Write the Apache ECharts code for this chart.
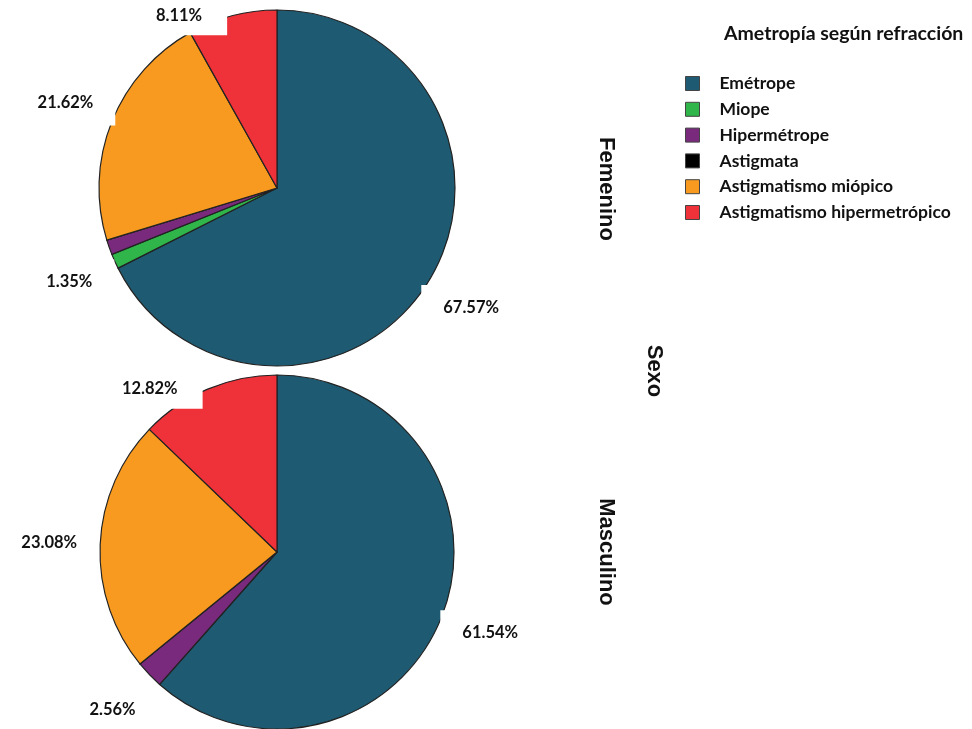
<!DOCTYPE html>
<html><head><meta charset="utf-8">
<script src="https://cdn.jsdelivr.net/npm/echarts@6/dist/echarts.min.js"></script>
<style>html,body{margin:0;padding:0;background:#fff}#c{width:972px;height:729px}</style>
</head><body><div id="c"></div>
<script>
const categories = ['Emétrope','Miope','Hipermétrope','Astigmata','Astigmatismo miópico','Astigmatismo hipermetrópico'];
const colors = ['#1e5b73','#2fb54a','#7a2a7d','#000000','#f79a1f','#ef3139'];
const femenino = [67.57, 1.35, 1.35, 0, 21.62, 8.11];
const masculino = [61.54, 0, 2.56, 0, 23.08, 12.82];
const groupLabels = ['Femenino','Masculino'];
const groupTitle = 'Sexo';
const legendTitle = 'Ametropía según refracción';
// category whose label sits beside the pie edge (top slice) instead of on the radial ring
const edgeLabelCategory = 'Astigmatismo hipermetrópico';

const labelFont = 'Lato';
const fmt = function(p){ return p.value.toFixed(2) + '%'; };
const labelText = {fontFamily: labelFont, fontWeight: 'bold', fontSize: 16.5, color: '#111', backgroundColor: '#fff'};

function makeSeries(name, values, center, radius){
  return {
    type:'pie', name: name, center: center, radius: radius,
    startAngle: 90, clockwise: true, avoidLabelOverlap: false, animation: false,
    itemStyle: {borderColor:'#222', borderWidth:1.2},
    emphasis: {disabled: true},
    label: Object.assign({show: false, position: 'outside', formatter: fmt, padding: [11, 25, 11, 20]}, labelText),
    labelLine: {show: false, length: 0, length2: 0},
    data: categories.map(function(c, i){
      const d = {name: c, value: values[i], itemStyle: {color: colors[i]}};
      if (values[i] !== 0 && c === edgeLabelCategory) d.label = {show: true};
      return d;
    })
  };
}
// transparent ring that carries the radial percentage labels
function makeLabelRing(name, values, center, ringRadius){
  return {
    type:'pie', name: name + ' etiquetas', center: center, radius: [0, ringRadius],
    startAngle: 90, clockwise: true, avoidLabelOverlap: false, animation: false,
    silent: true, z: 5,
    itemStyle: {color: 'rgba(0,0,0,0)', borderWidth: 0},
    emphasis: {disabled: true},
    label: Object.assign({show: true, position: 'inside', formatter: fmt, padding: [14, 22]}, labelText),
    labelLine: {show: false},
    labelLayout: {hideOverlap: true},
    data: categories.map(function(c, i){
      const d = {name: c, value: values[i]};
      if (values[i] === 0 || c === edgeLabelCategory) d.label = {show: false};
      return d;
    })
  };
}

const chart = echarts.init(document.getElementById('c'), null, {renderer:'canvas'});
chart.setOption({
  backgroundColor: '#fff',
  animation: false,
  color: colors,
  title: {
    text: legendTitle, left: 719, top: 19,
    textStyle: {fontFamily: labelFont, fontWeight: 'bold', fontSize: 19.5, color: '#111'}
  },
  legend: {
    orient: 'vertical', left: 680, top: 69.5,
    itemWidth: 14, itemHeight: 14, itemGap: 7.8, icon: 'rect',
    selectedMode: false,
    data: categories,
    itemStyle: {borderColor: '#444', borderWidth: 1},
    textStyle: {fontFamily: labelFont, fontWeight: 'bold', fontSize: 17.5, color: '#111', lineHeight: 17, padding: [0,0,0,15]}
  },
  graphic: [
    {type:'text', x:606, y:189, rotation:-Math.PI/2,
     style:{text: groupLabels[0], font:'bold 22px "Liberation Sans"', fill:'#111', textAlign:'center', textVerticalAlign:'middle', align:'center', verticalAlign:'middle'}},
    {type:'text', x:606, y:552, rotation:-Math.PI/2,
     style:{text: groupLabels[1], font:'bold 22px "Liberation Sans"', fill:'#111', textAlign:'center', textVerticalAlign:'middle', align:'center', verticalAlign:'middle'}},
    {type:'text', x:654, y:371, rotation:-Math.PI/2,
     style:{text: groupTitle, font:'bold 22px "Liberation Sans"', fill:'#111', textAlign:'center', textVerticalAlign:'middle', align:'center', verticalAlign:'middle'}}
  ],
  series: [
    makeSeries(groupLabels[0], femenino, [277, 188], 178),
    makeSeries(groupLabels[1], masculino, [277, 552], 177),
    makeLabelRing(groupLabels[0], femenino, [277, 188], 450),
    makeLabelRing(groupLabels[1], masculino, [277, 552], 450)
  ]
});
</script>
</body></html>
